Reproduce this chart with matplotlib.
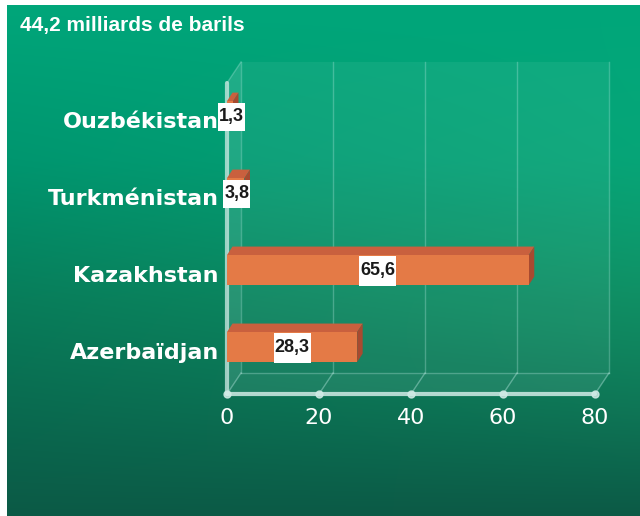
import matplotlib
matplotlib.use('Agg')
from matplotlib import pyplot as plt
from matplotlib.patches import Polygon, Rectangle
import numpy as np

# data
title = '44,2 milliards de barils'
countries = ['Azerbaïdjan', 'Kazakhstan', 'Turkménistan', 'Ouzbékistan']
values = [28.3, 65.6, 3.8, 1.3]
value_labels = ['28,3', '65,6', '3,8', '1,3']
xticks = [0, 20, 40, 60, 80]

W, H = 640, 516
fig = plt.figure(figsize=(W / 100, H / 100), dpi=100, facecolor='white')

# green gradient background, darker towards the bottom and left
bg = fig.add_axes([7 / W, 0, 1 - 7 / W, 1 - 5 / H])
stops_y = [0.0, 0.3, 0.58, 0.87, 1.0]
stops_c = np.array([[0, 166, 122], [0, 150, 111], [8, 125, 90],
                    [10, 100, 76], [12, 90, 70]]) / 255
yy = np.linspace(0, 1, 256)
col = np.stack([np.interp(yy, stops_y, stops_c[:, k]) for k in range(3)], axis=1)
xx = np.linspace(0, 1, 64)
bump = np.sin(np.pi * yy)[:, None, None] * xx[None, :, None]
grad = col[:, None, :] + bump * (np.array([8, 18, 10]) / 255)
grad = np.clip(grad, 0, 1)
bg.imshow(grad, aspect='auto', extent=[0, 1, 0, 1], interpolation='bilinear')
bg.set_axis_off()
bg.text(13 / 633, 1 - 20 / 511, title, color='white', fontsize=15,
        fontweight='bold', family='Liberation Sans', va='center', ha='left',
        transform=bg.transAxes)

# plot area (front plane)
ax = fig.add_axes([227 / W, (H - 394) / H, 368 / W, (394 - 83) / H])
ax.set_facecolor('none')
ylo, yhi = -0.61, 3.43
xmax = 80
ax.set_xlim(0, xmax)
ax.set_ylim(ylo, yhi)
for s in ax.spines.values():
    s.set_visible(False)

dx = 14 / 4.6     # depth offset in data units
dy = 21 / 77.0

light = (0.75, 0.93, 0.9)

# back wall
ax.add_patch(Rectangle((dx, ylo + dy), xmax, yhi - ylo, facecolor=light,
                       alpha=0.07, edgecolor='none', clip_on=False, zorder=0))
# left wall
ax.add_patch(Polygon([(0, ylo), (0, yhi), (dx, yhi + dy), (dx, ylo + dy)],
                     facecolor=light, alpha=0.16, edgecolor='none',
                     clip_on=False, zorder=0))
# floor
ax.add_patch(Polygon([(0, ylo), (xmax, ylo), (xmax + dx, ylo + dy), (dx, ylo + dy)],
                     facecolor=light, alpha=0.1, edgecolor='none',
                     clip_on=False, zorder=0))

# grid lines on wall and floor
for xv in xticks:
    ax.plot([xv + dx, xv + dx], [ylo + dy, yhi + dy], color=light, alpha=0.3,
            lw=1, clip_on=False, zorder=1)
    ax.plot([xv, xv + dx], [ylo, ylo + dy], color=light, alpha=0.4,
            lw=1, clip_on=False, zorder=1)
ax.plot([dx, xmax + dx], [ylo + dy, ylo + dy], color=light, alpha=0.3,
        lw=1, clip_on=False, zorder=1)
ax.plot([0, dx], [yhi, yhi + dy], color=light, alpha=0.3, lw=1,
        clip_on=False, zorder=1)

# front axis lines
ax.plot([0, 0], [ylo, yhi], color=(0.82, 0.92, 0.9), alpha=0.75, lw=3,
        clip_on=False, zorder=2, solid_capstyle='round')
ax.plot([0, xmax], [ylo, ylo], color=(0.82, 0.92, 0.9), alpha=0.85, lw=3,
        clip_on=False, zorder=2, solid_capstyle='round')
ax.plot(xticks, [ylo] * len(xticks), 'o', ms=5, color=(0.82, 0.92, 0.9),
        alpha=0.85, clip_on=False, zorder=2)

# bars
h = 15 / 77.0
bdx = 5.5 / 4.6
bdy = 8.5 / 77.0
c_front = '#e47a46'
c_top = '#c9603e'
c_side = '#a84a30'
for i, v in enumerate(values):
    ax.add_patch(Polygon([(0, i + h), (v, i + h), (v + bdx, i + h + bdy),
                          (bdx, i + h + bdy)], facecolor=c_top,
                         edgecolor='none', zorder=3, clip_on=False))
    ax.add_patch(Polygon([(v, i - h), (v + bdx, i - h + bdy),
                          (v + bdx, i + h + bdy), (v, i + h)],
                         facecolor=c_side, edgecolor='none', zorder=3,
                         clip_on=False))
    ax.add_patch(Rectangle((0, i - h), v, 2 * h, facecolor=c_front,
                           edgecolor='none', zorder=4, clip_on=False))

# category labels
for i, name in enumerate(countries):
    ax.text(-1.8, i - 0.08, name, ha='right', va='center', color='white',
            fontsize=16, fontweight='bold', family='DejaVu Sans', zorder=5)

# value labels on white boxes
fig.canvas.draw()
renderer = fig.canvas.get_renderer()
inv = ax.transData.inverted()
for i, (v, lab) in enumerate(zip(values, value_labels)):
    xc = max(v / 2, 0.9 if v < 2 else 2.1 if v < 5 else v / 2)
    txt = ax.text(xc, i - 0.01, lab, ha='center', va='center', color='#1a1a1a',
                  fontsize=13, fontweight='bold', family='Liberation Sans',
                  zorder=7)
    bb = txt.get_window_extent(renderer)
    (x0, _), (x1, _) = inv.transform([(bb.x0 - 1, 0), (bb.x1 + 1, 0)])
    bh = h if v > 10 else h * 0.95
    ax.add_patch(Rectangle((x0, i - bh - 0.01), x1 - x0, 2 * bh,
                           facecolor='white', edgecolor='none', zorder=6,
                           clip_on=False))

# x tick labels
ax.set_xticks(xticks)
ax.set_xticklabels([str(x) for x in xticks])
ax.set_yticks([])
ax.tick_params(axis='x', length=0, pad=10, labelsize=16, labelcolor='white')

plt.savefig('out.png', dpi=100, facecolor='white')
